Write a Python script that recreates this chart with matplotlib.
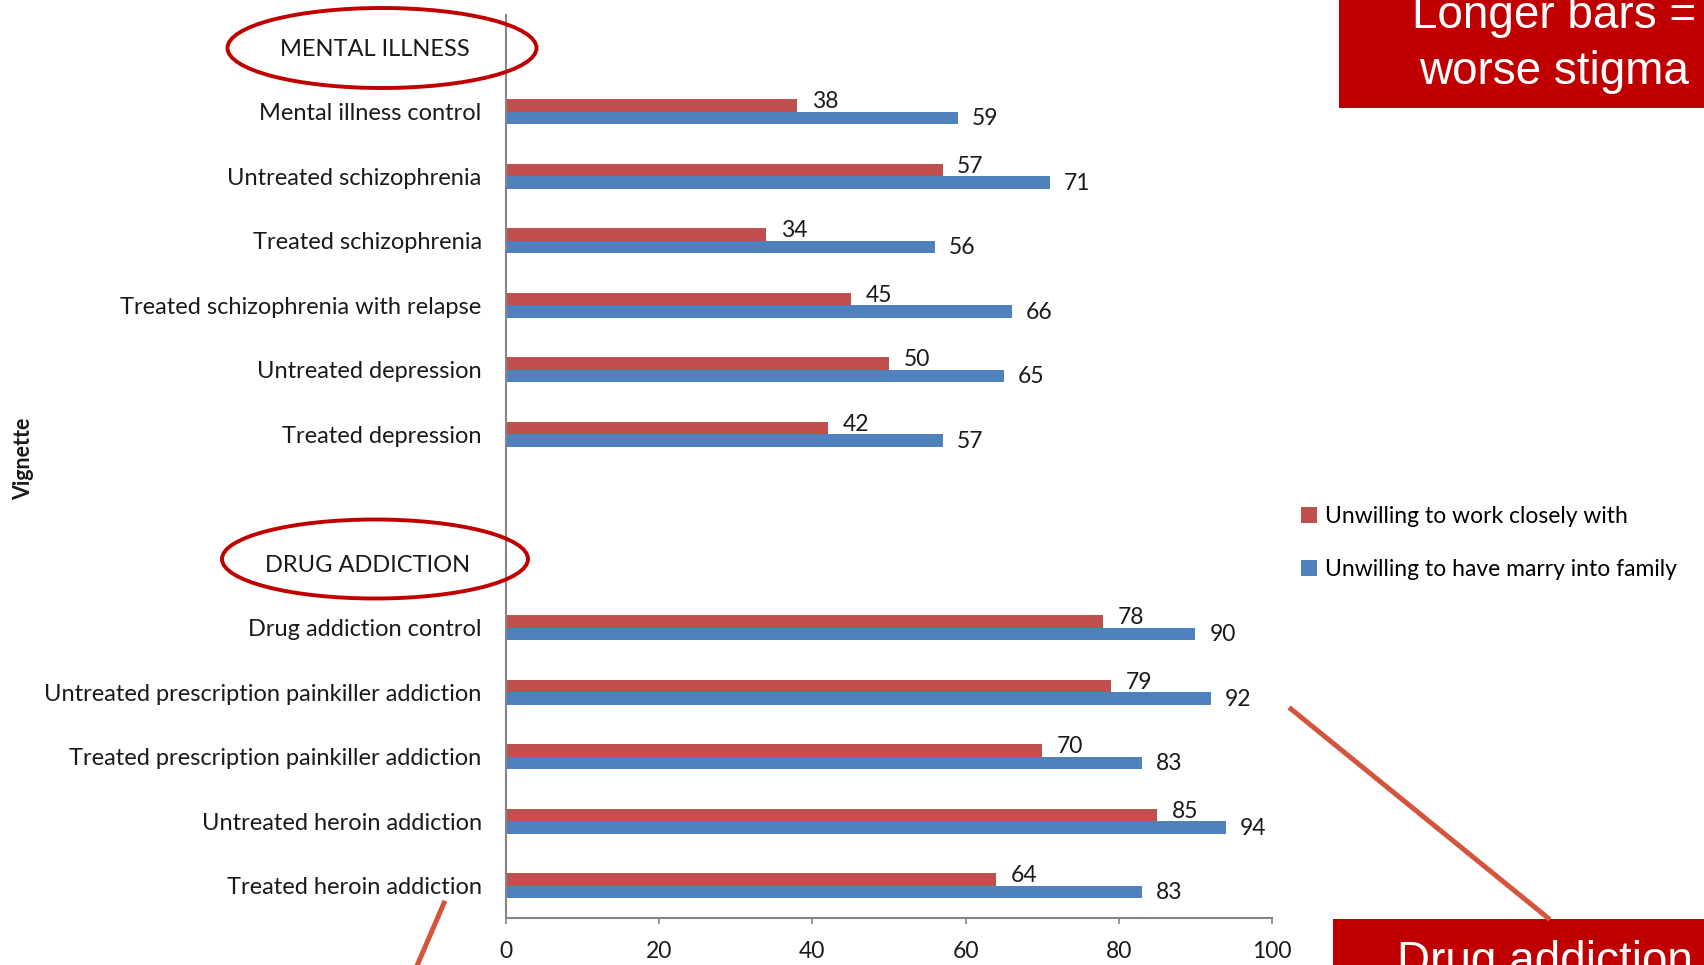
import matplotlib
matplotlib.use('Agg')
import matplotlib.pyplot as plt
from matplotlib.patches import Ellipse, Rectangle
from matplotlib.lines import Line2D
from matplotlib.transforms import Affine2D

plt.rcParams['font.family'] = ['Lato', 'DejaVu Sans']

# data
mental = ['Mental illness control', 'Untreated schizophrenia', 'Treated schizophrenia',
          'Treated schizophrenia with relapse', 'Untreated depression', 'Treated depression']
mental_work = [38, 57, 34, 45, 50, 42]
mental_marry = [59, 71, 56, 66, 65, 57]

drug = ['Drug addiction control', 'Untreated prescription painkiller addiction',
        'Treated prescription painkiller addiction', 'Untreated heroin addiction',
        'Treated heroin addiction']
drug_work = [78, 79, 70, 85, 64]
drug_marry = [90, 92, 83, 94, 83]

series_names = ['Unwilling to work closely with', 'Unwilling to have marry into family']
RED = '#c0504d'
BLUE = '#4f81bd'
AXCOL = '#868686'
FS = 17

# rows: group header, vignettes, blank spacer, header, vignettes
rows = ['MENTAL ILLNESS  '] + mental + ['', 'DRUG ADDICTION  '] + drug
work = [None] + mental_work + [None, None] + drug_work
marry = [None] + mental_marry + [None, None] + drug_marry

W, H = 1704, 965
fig = plt.figure(figsize=(W / 100, H / 100), dpi=100)
ax = fig.add_axes([506 / W, 1 - 918 / H, (1272 - 506) / W, (918 - 15) / H])

ys = [i for i, v in enumerate(work) if v is not None]
wv = [work[i] for i in ys]
mv = [marry[i] for i in ys]
bh = 0.195
b1 = ax.barh([y - bh / 2 for y in ys], wv, height=bh, color=RED, label=series_names[0])
b2 = ax.barh([y + bh / 2 for y in ys], mv, height=bh, color=BLUE, label=series_names[1])

for y, v in zip(ys, wv):
    ax.annotate(str(v), (v, y - bh / 2), xytext=(10.5, 2.5), textcoords='offset points',
                ha='left', va='center', fontsize=16.5, color='#1a1a1a')
for y, v in zip(ys, mv):
    ax.annotate(str(v), (v, y + bh / 2), xytext=(10, -0.5), textcoords='offset points',
                ha='left', va='center', fontsize=16.5, color='#1a1a1a')

ax.set_xlim(0, 100)
ax.set_ylim(len(rows) - 0.5, -0.5)
ax.set_yticks(range(len(rows)))
ax.set_yticklabels(rows, fontsize=FS, color='#1a1a1a')
ax.set_xticks([0, 20, 40, 60, 80, 100])
ax.tick_params(axis='y', length=0, pad=17.5)
ax.tick_params(axis='x', length=4.5, width=1.2, color=AXCOL, pad=12, labelsize=16.5,
               labelcolor='#1a1a1a')
for s in ['top', 'right']:
    ax.spines[s].set_visible(False)
for s in ['left', 'bottom']:
    ax.spines[s].set_color(AXCOL)
    ax.spines[s].set_linewidth(1.5)

# pixel coordinates, origin at top left, for the overlay annotations
px = Affine2D().scale(1 / W, -1 / H).translate(0, 1) + fig.transFigure

fig.text(24, 459, 'Vignette', rotation=90, fontsize=15.5, fontweight='bold',
         ha='center', va='center', transform=px, color='#1a1a1a')

fig.legend(handles=[b1, b2], labels=series_names, loc='upper left',
           bbox_to_anchor=(1301 / W, 1 - 506 / H), frameon=False, fontsize=16.5,
           handlelength=0.7, handleheight=0.75, handletextpad=0.35,
           labelspacing=1.4, borderpad=0, borderaxespad=0)

ring = '#c00000'
fig.add_artist(Ellipse((382, 48), 309, 80, transform=px, fill=False, ec=ring, lw=2.8))
fig.add_artist(Ellipse((375, 559), 306, 79, transform=px, fill=False, ec=ring, lw=2.8))

fig.add_artist(Rectangle((1339, -20), 420, 128, transform=px, fc='#c00000', ec='none'))
fig.add_artist(Rectangle((1333, 919), 420, 80, transform=px, fc='#c00000', ec='none'))
fig.text(1554, 28, 'Longer bars =', transform=px, ha='center', va='baseline',
         fontsize=33, color='white', family='Liberation Sans')
fig.text(1554, 84, 'worse stigma', transform=px, ha='center', va='baseline',
         fontsize=33, color='white', family='Liberation Sans')
fig.text(1397, 974, 'Drug addiction', transform=px, ha='left', va='baseline',
         fontsize=33, color='white', family='Liberation Sans')

arrow = '#d4553d'
fig.add_artist(Line2D([1291, 1548], [709, 918], transform=px, color=arrow, lw=3.6))
fig.add_artist(Line2D([444, 413], [903, 975], transform=px, color=arrow, lw=3.6))

fig.savefig('out.png', dpi=100)
